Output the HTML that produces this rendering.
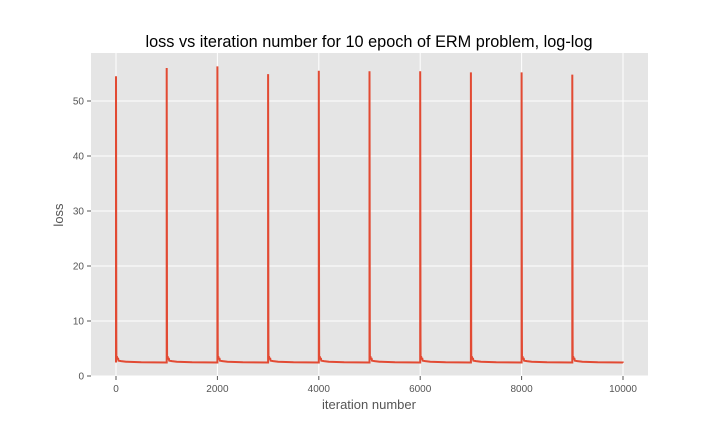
<!DOCTYPE html>
<html><head><meta charset="utf-8"><style>
body{margin:0;background:#fff}
svg text{font-family:"Liberation Sans",sans-serif}
</style></head><body>
<svg id="chart" width="720" height="432">
<rect x="91" y="53" width="557" height="323" fill="#e5e5e5"/>
<g id="grid"></g>
<g id="series"></g>
<g id="axes"></g>
<text x="369" y="47" text-anchor="middle" font-size="16.3" fill="#000">loss vs iteration number for 10 epoch of ERM problem, log-log</text>
<text x="369" y="409" text-anchor="middle" font-size="13" fill="#555">iteration number</text>
<text x="63" y="215" text-anchor="middle" font-size="13" fill="#555" transform="rotate(-90 63 215)">loss</text>
</svg>
<script>
const epochStarts=[0,1000,2000,3000,4000,5000,6000,7000,8000,9000];
const epochPeaks=[54.5,56.0,56.3,54.9,55.5,55.4,55.4,55.2,55.2,54.8];
const decayOffsets=[5,8,12,20,30,40,50,100,200,500,999];
const decayLoss=[7.5,3.0,3.6,3.5,3.0,3.3,2.8,2.7,2.6,2.5,2.45];
const finalPoint=[10000,2.4];
const xTicks=[0,2000,4000,6000,8000,10000];
const yTicks=[0,10,20,30,40,50];
const NS="http://www.w3.org/2000/svg";
const X=v=>116+v*(507/10000);
const Y=v=>376-v*5.5;
const grid=document.getElementById('grid'),axes=document.getElementById('axes'),series=document.getElementById('series');
function mk(tag,attrs,parent){const e=document.createElementNS(NS,tag);for(const k in attrs)e.setAttribute(k,attrs[k]);parent.appendChild(e);return e;}
xTicks.forEach(t=>{
 const l=mk('line',{x1:X(t),x2:X(t),y1:53,y2:376,stroke:'#fff','stroke-width':1},grid);
 
 
 mk('line',{x1:X(t),x2:X(t),y1:376,y2:380,stroke:'#555'},axes);
 const tx=mk('text',{x:X(t),y:392,'text-anchor':'middle','font-size':10,fill:'#555'},axes);
 tx.textContent=t;
 
 
});
yTicks.forEach(t=>{
 const l=mk('line',{x1:91,x2:648,y1:Y(t),y2:Y(t),stroke:'#fff','stroke-width':1},grid);
 
 
 mk('line',{x1:87,x2:91,y1:Y(t),y2:Y(t),stroke:'#555'},axes);
 const tx=mk('text',{x:84,y:Y(t)+3.5,'text-anchor':'end','font-size':10,fill:'#555'},axes);
 tx.textContent=t;
 
 
});
let pts=[];
epochStarts.forEach((s,i)=>{
 pts.push([s,decayLoss[decayLoss.length-1]]);
 pts.push([s,epochPeaks[i]]);
 decayOffsets.forEach((o,j)=>pts.push([s+o,decayLoss[j]]));
});
pts.push(finalPoint);
const p=mk('polyline',{points:pts.map(q=>X(q[0]).toFixed(1)+','+Y(q[1]).toFixed(1)).join(' '),fill:'none',stroke:'#e24a33','stroke-width':2,'stroke-linejoin':'miter'},series);


</script>
</body></html>
